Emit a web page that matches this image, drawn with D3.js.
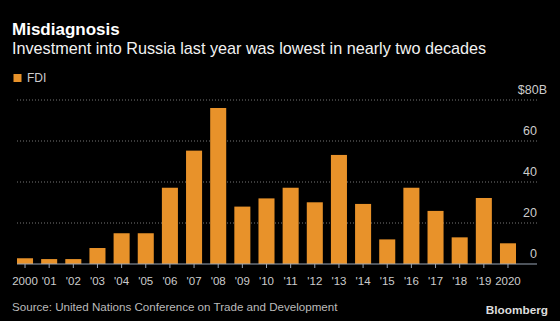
<!DOCTYPE html>
<html>
<head>
<meta charset="utf-8">
<script src="https://cdn.jsdelivr.net/npm/d3@7"></script>
<style>
  body { margin: 0; background: #000; }
  svg { display: block; }
  text { font-family: "Liberation Sans", Arial, sans-serif; }
</style>
</head>
<body>
<div id="chart"></div>
<script>
// FDI into Russia, billions of dollars
var years = ["2000", "2001", "2002", "2003", "2004", "2005", "2006", "2007", "2008", "2009", "2010",
  "2011", "2012", "2013", "2014", "2015", "2016", "2017", "2018", "2019", "2020"];
var fdi = [2.8, 2.4, 2.4, 7.8, 15.0, 15.0, 37.2, 55.3, 76.1, 28.0, 32.0,
  37.2, 30.1, 53.2, 29.3, 12.0, 37.2, 25.9, 13.0, 32.2, 10.1];
var yTicks = [0, 20, 40, 60, 80];

var width = 560;
var height = 321;

var svg = d3.select("div#chart")
  .append("svg")
    .attr("width", width)
    .attr("height", height);

var x = d3.scaleBand()
  .domain(years)
  .range([17, 516])
  .paddingInner(0.336)
  .paddingOuter(0);

var y = d3.scaleLinear()
  .domain([0, 80])
  .range([264, 100]);

var gridRight = 537;
var maxTick = yTicks[yTicks.length - 1];

function translateY(v) {
  return "translate(0, " + v + ")";
}

// Titles
svg.append("text")
  .attr("x", 12)
  .attr("y", 35)
  .attr("fill", "#fff")
  .style("font-weight", "bold")
  .style("font-size", "17px")
  .text("Misdiagnosis");

svg.append("text")
  .attr("x", 12)
  .attr("y", 54)
  .attr("fill", "#f2f2f2")
  .style("font-size", "16.2px")
  .text("Investment into Russia last year was lowest in nearly two decades");

// Legend
svg.append("rect")
  .attr("x", 13.5)
  .attr("y", 74)
  .attr("width", 8)
  .attr("height", 8)
  .attr("fill", "#e8922a");

svg.append("text")
  .attr("x", 27)
  .attr("y", 82)
  .attr("fill", "#ccc")
  .style("font-size", "12px")
  .text("FDI");

// Grid lines and y labels
svg.selectAll("line.grid")
  .data(yTicks.filter(function (d) { return d > 0; }))
  .enter()
  .append("line")
    .attr("class", "grid")
    .attr("x1", 17)
    .attr("x2", gridRight)
    .attr("y1", function (d) { return y(d); })
    .attr("y2", function (d) { return y(d); })
    .attr("stroke", "#777")
    .attr("stroke-width", 1)
    .attr("stroke-dasharray", "1,2");

// the top label carries the units: "$" and "B" hang either side
svg.selectAll("text.ylabel")
  .data(yTicks)
  .enter()
  .append("text")
    .attr("class", "ylabel")
    .attr("x", function (d) { return d == maxTick ? 547 : gridRight; })
    .attr("y", function (d) { return y(d) - 6.5; })
    .attr("text-anchor", "end")
    .attr("fill", "#ccc")
    .style("font-size", "12.5px")
    .text(function (d) { return d == maxTick ? "$80B" : d; });

// Bars
svg.selectAll("rect.bar")
  .data(fdi)
  .enter()
  .append("rect")
    .attr("class", "bar")
    .attr("x", function (d, i) { return x(years[i]); })
    .attr("y", function (d) { return y(d); })
    .attr("width", x.bandwidth())
    .attr("height", function (d) { return y(0) - y(d); })
    .attr("fill", "#e8922a");

// X axis
var xAxis = d3.axisBottom(x)
  .tickSize(4)
  .tickFormat(function (d) {
    return (d == "2000" || d == "2020") ? d : "'" + d.slice(2);
  });

var axisG = svg.append("g")
  .attr("transform", translateY(y(0)))
  .call(xAxis);

axisG.select("path.domain").remove();
axisG.append("line")
  .attr("x1", 17)
  .attr("x2", gridRight)
  .attr("stroke", "#9aa5b5")
  .attr("stroke-width", 1.2);
axisG.selectAll(".tick line").attr("stroke", "#9aa5b5");
axisG.selectAll(".tick text")
  .attr("fill", "#ccc")
  .attr("y", 12)
  .attr("dy", "0.8em")
  .style("font-family", "\"Liberation Sans\", sans-serif")
  .style("font-size", "11.5px");

// Footer
svg.append("text")
  .attr("x", 12)
  .attr("y", 311)
  .attr("fill", "#bbb")
  .style("font-size", "11.6px")
  .text("Source: United Nations Conference on Trade and Development");

svg.append("text")
  .attr("x", 548)
  .attr("y", 314)
  .attr("text-anchor", "end")
  .attr("fill", "#ddd")
  .style("font-weight", "bold")
  .style("font-size", "11.8px")
  .text("Bloomberg");
</script>
</body>
</html>
